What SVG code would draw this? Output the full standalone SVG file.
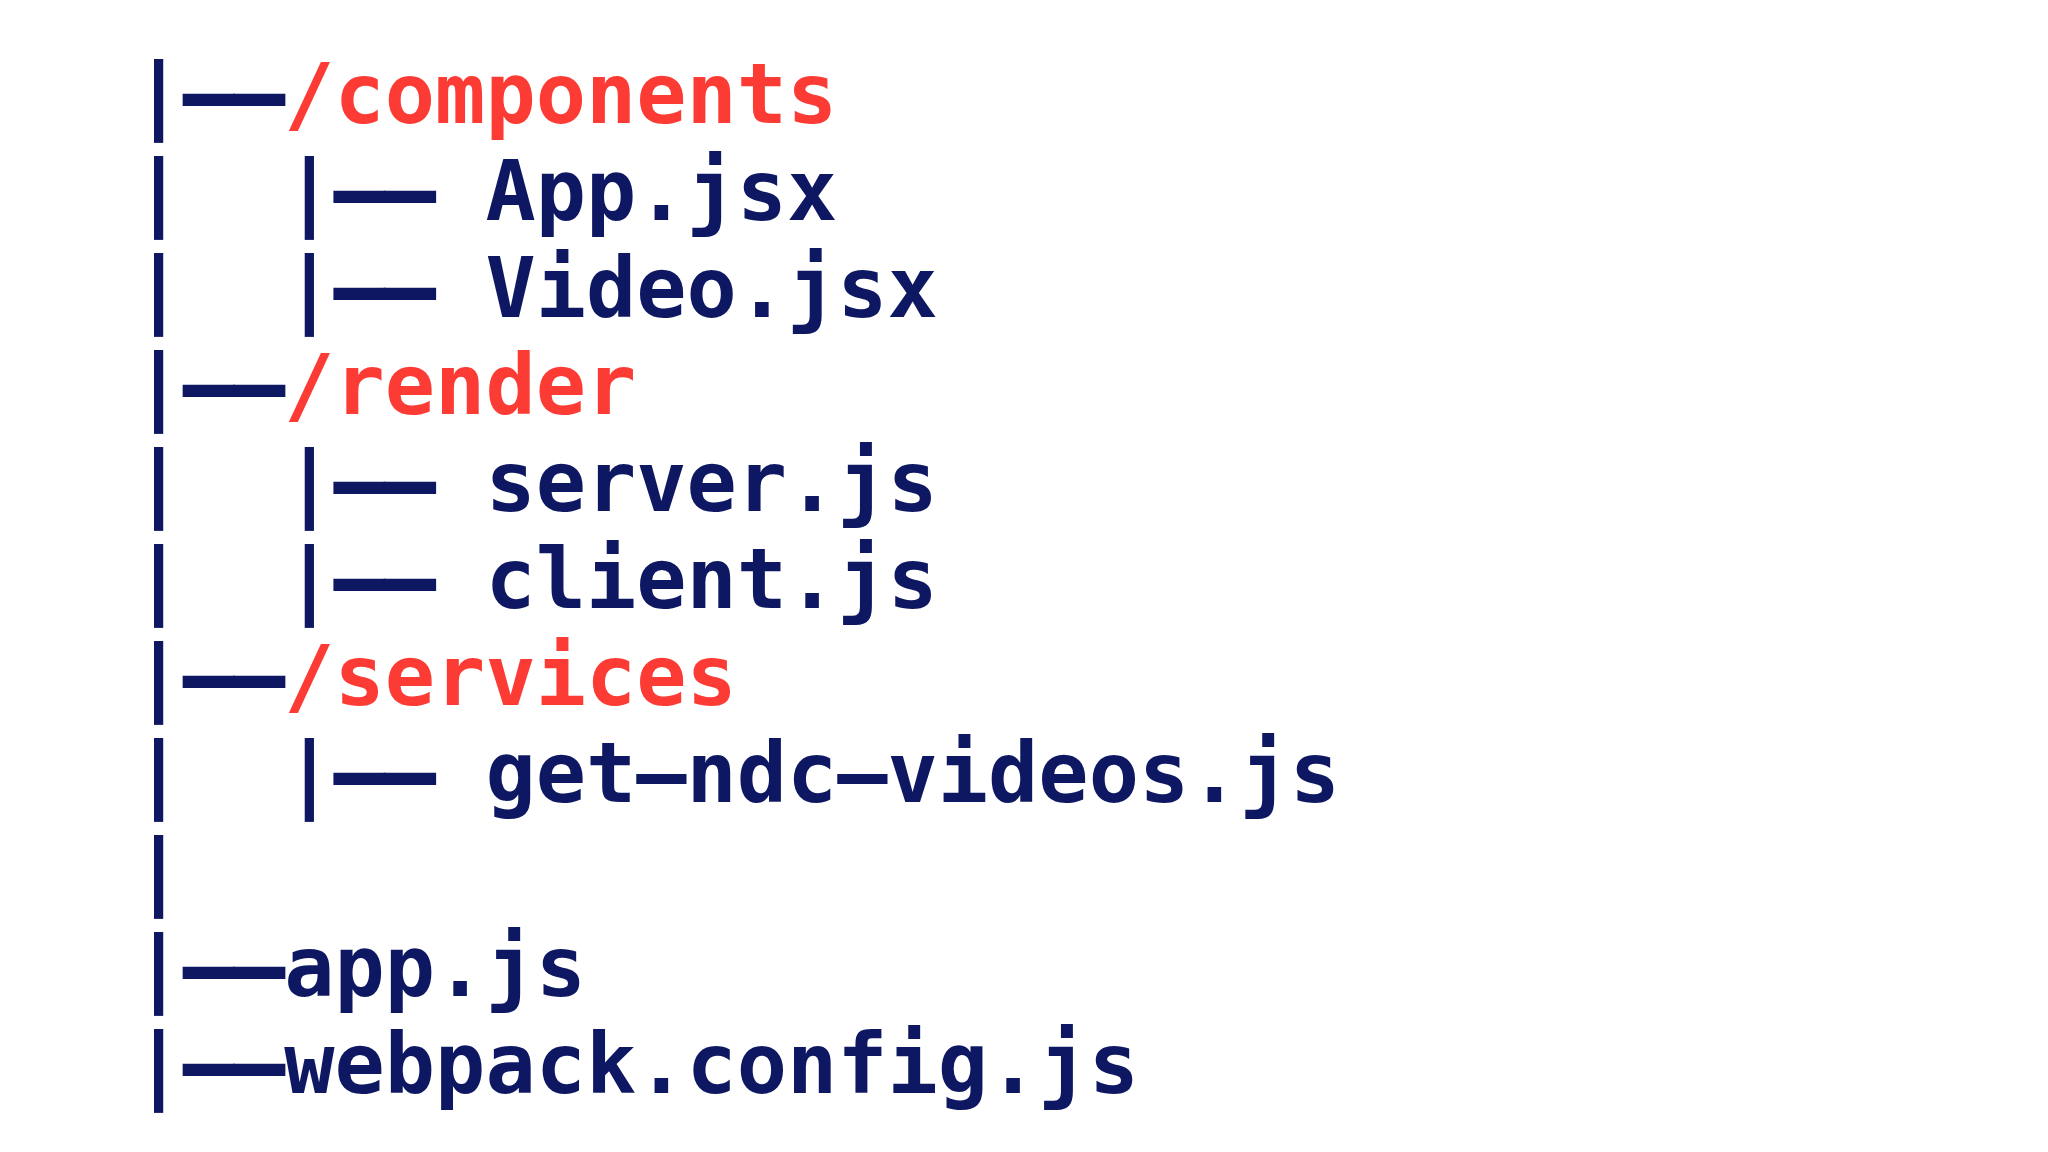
<svg xmlns="http://www.w3.org/2000/svg" width="2048" height="1152" viewBox="0 0 2048 1152">
  <style>
    text { font-family: "DejaVu Sans Mono", "Liberation Mono", monospace; font-weight: bold; font-size: 83.5px; }
    .tree { fill: #0e1862; }
    .tree tspan { stroke: #0e1862; stroke-width: 2.2px; }
    .file { fill: #0e1862; }
    .dir { fill: #fd3b35; }
  </style>
  <rect width="2048" height="1152" fill="#ffffff"/>
  <g id="connectors" class="tree">
    <text x="133.5" y="123">|<tspan>——</tspan></text>
    <text x="133.5" y="220">|</text>
    <text x="284.3" y="220">|<tspan>——</tspan></text>
    <text x="133.5" y="317">|</text>
    <text x="284.3" y="317">|<tspan>——</tspan></text>
    <text x="133.5" y="414">|<tspan>——</tspan></text>
    <text x="133.5" y="511">|</text>
    <text x="284.3" y="511">|<tspan>——</tspan></text>
    <text x="133.5" y="608">|</text>
    <text x="284.3" y="608">|<tspan>——</tspan></text>
    <text x="133.5" y="705">|<tspan>——</tspan></text>
    <text x="133.5" y="802">|</text>
    <text x="284.3" y="802">|<tspan>——</tspan></text>
    <text x="133.5" y="899">|</text>
    <text x="133.5" y="996">|<tspan>——</tspan></text>
    <text x="133.5" y="1093">|<tspan>——</tspan></text>
  </g>
  <g id="node-components"><text class="dir" x="284.3" y="123">/components</text></g>
  <g id="node-app-jsx"><text class="file" x="485.4" y="220">App.jsx</text></g>
  <g id="node-video-jsx"><text class="file" x="485.4" y="317">Video.jsx</text></g>
  <g id="node-render"><text class="dir" x="284.3" y="414">/render</text></g>
  <g id="node-server-js"><text class="file" x="485.4" y="511">server.js</text></g>
  <g id="node-client-js"><text class="file" x="485.4" y="608">client.js</text></g>
  <g id="node-services"><text class="dir" x="284.3" y="705">/services</text></g>
  <g id="node-get-ndc-videos-js"><text class="file" x="485.4" y="802">get–ndc–videos.js</text></g>
  <g id="node-app-js"><text class="file" x="284.3" y="996">app.js</text></g>
  <g id="node-webpack-config-js"><text class="file" x="284.3" y="1093">webpack.config.js</text></g>
</svg>
